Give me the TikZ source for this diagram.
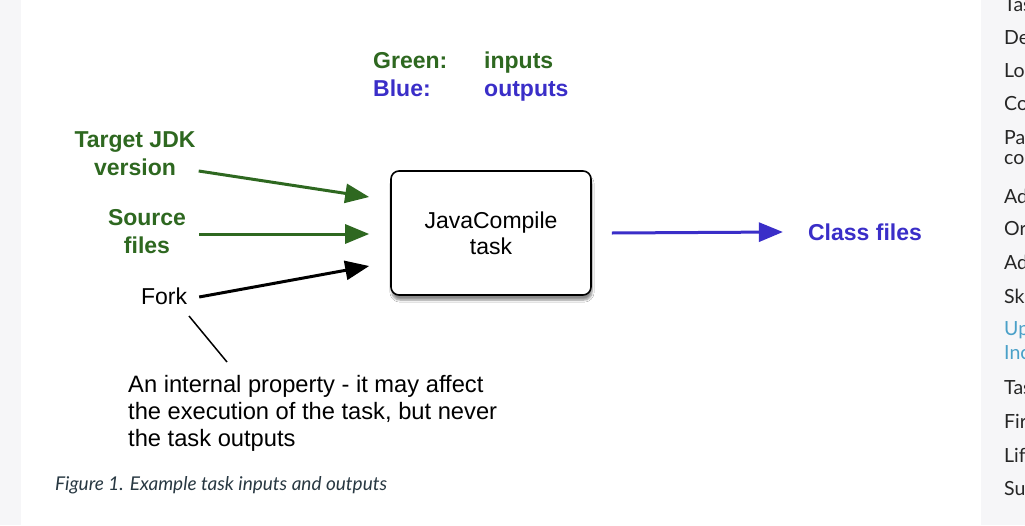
\documentclass[tikz,border=0pt]{standalone}
\usepackage{fontspec}
\setmainfont{Liberation Sans}
\newfontfamily\lato{Lato}
\usetikzlibrary{arrows.meta,shadows.blur}
\definecolor{ingreen}{RGB}{46,104,32}
\definecolor{outblue}{RGB}{58,46,200}
\definecolor{capcol}{RGB}{40,56,66}
\definecolor{sidegray}{RGB}{246,246,248}
\definecolor{sidetext}{RGB}{38,38,38}
\definecolor{sidelink}{RGB}{74,160,200}
\tikzset{
  big/.style={font=\fontsize{23}{28}\selectfont, inner sep=0pt},
  inlabel/.style={big, font=\fontsize{23}{28}\selectfont\bfseries, text=ingreen, align=center},
  outlabel/.style={big, font=\fontsize{23}{28}\selectfont\bfseries, text=outblue},
  taskbox/.style={draw=black, line width=1.6pt, rounded corners=8pt, fill=white,
    minimum width=200pt, minimum height=124pt, align=center,
    font=\fontsize{23}{26}\selectfont,
    blur shadow={shadow xshift=1pt, shadow yshift=-5pt, shadow blur steps=6, shadow opacity=45}},
  inarrow/.style={draw=ingreen, line width=3pt, -{Triangle[length=24pt,width=19pt]}},
  forkarrow/.style={draw=black, line width=3pt, -{Triangle[length=24pt,width=19pt]}},
  outarrow/.style={draw=outblue, line width=3pt, -{Triangle[length=24pt,width=19pt]}},
  side/.style={anchor=west, inner sep=0pt, font=\lato\fontsize{19.5}{22}\selectfont, text=sidetext},
}
\begin{document}
\begin{tikzpicture}[x=1pt,y=-1pt]
\clip (0,0) rectangle (1025,525);
\fill[white] (0,0) rectangle (1025,525);
\fill[sidegray] (0,0) rectangle (21,525);
\fill[sidegray] (981,0) rectangle (1025,525);

% legend
\node[inlabel, anchor=base west] (lg1) at (373,68) {Green:};
\node[inlabel, anchor=base west] (lg2) at (484,68) {inputs};
\node[outlabel, anchor=base west] (lb1) at (373,96) {Blue:};
\node[outlabel, anchor=base west] (lb2) at (484,96) {outputs};

% task box
\node[taskbox] (task) at (491,233) {JavaCompile\\task};

% inputs
\node[inlabel] (jdk) at (135,154) {Target JDK\\version};
\node[inlabel] (src) at (147,232) {Source\\files};
\node[big] (fork) at (164,296) {Fork};

\draw[inarrow] ([xshift=3pt,yshift=-17pt]jdk.east) -- ([xshift=-21pt,yshift=36pt]task.west);
\draw[inarrow] ([xshift=13pt,yshift=-2pt]src.east) -- ([xshift=-21pt,yshift=-1pt]task.west);
\draw[forkarrow] ([xshift=12pt,yshift=-1pt]fork.east) -- ([xshift=-21pt,yshift=-33pt]task.west);

% output
\node[outlabel] (cls) at (865,232) {Class files};
\draw[outarrow] ([xshift=20pt]task.east) -- ([xshift=-25pt]cls.west);

% annotation
\node[big, anchor=west, align=left, font=\fontsize{23.7}{27}\selectfont] (note) at (128,413)
  {An internal property - it may affect\\the execution of the task, but never\\the task outputs};
\coordinate (n1) at (189,316);
\coordinate (n2) at (227,362);
\draw[line width=1.5pt] (n1) -- (n2);

% caption
\node[anchor=west, inner sep=0pt, font=\lato\itshape\fontsize{19}{22}\selectfont, text=capcol] (cap) at (55,485)
  {Figure 1. Example task inputs and outputs};

% sidebar
\node[side] (s1) at (1004,5) {Tas};
\node[side] (s2) at (1004,38) {De};
\node[side] (s3) at (1004,71) {Lo};
\node[side] (s4) at (1004,104) {Co};
\node[side] (s5) at (1004,138) {Pa};
\node[side] (s6) at (1004,160) {co};
\node[side] (s7) at (1004,196) {Ad};
\node[side] (s8) at (1004,229) {Or};
\node[side] (s9) at (1004,262) {Ad};
\node[side] (s10) at (1004,296) {Sk};
\node[side, text=sidelink] (s11) at (1004,330) {Up};
\node[side, text=sidelink] (s12) at (1004,353) {Inc};
\node[side] (s13) at (1004,388) {Tas};
\node[side] (s14) at (1004,421) {Fir};
\node[side] (s15) at (1004,455) {Lif};
\node[side] (s16) at (1004,489) {Su};
\end{tikzpicture}
\end{document}
